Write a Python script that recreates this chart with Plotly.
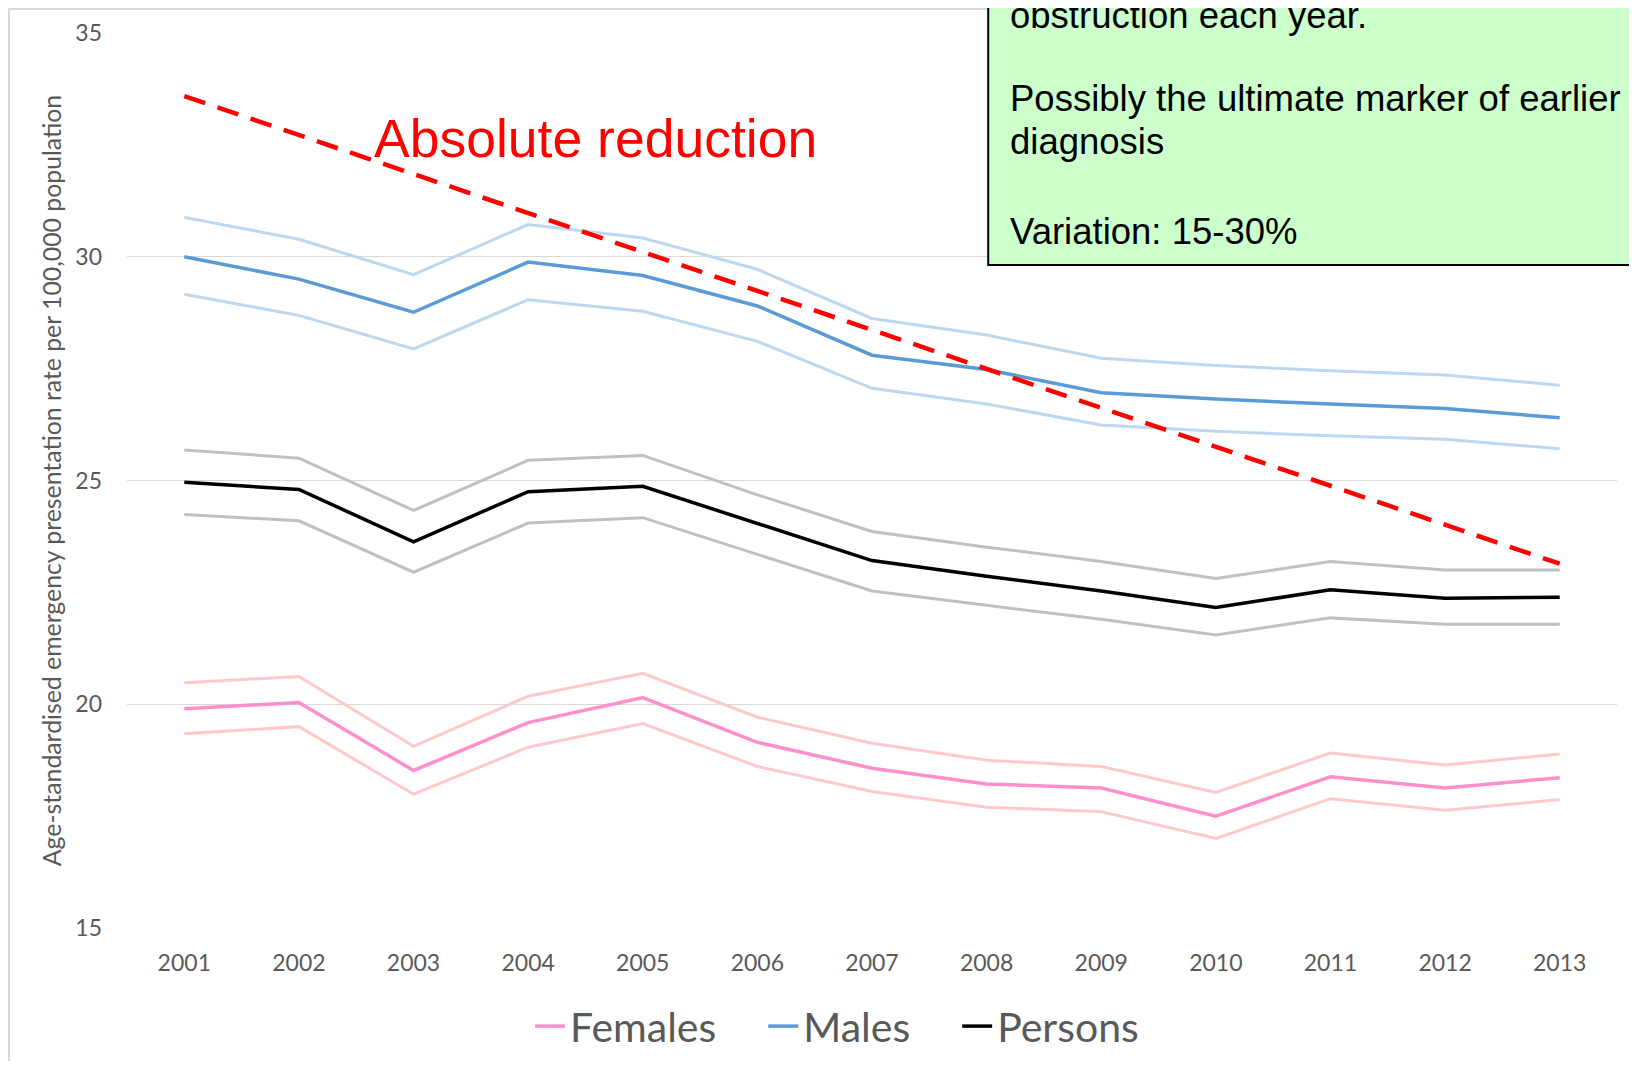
import plotly.graph_objects as go

years = list(range(2001, 2014))

males = [30.0, 29.5, 28.76, 29.88, 29.58, 28.9, 27.8, 27.48, 26.96, 26.82, 26.71, 26.61, 26.4]
males_hi = [30.88, 30.39, 29.6, 30.72, 30.42, 29.72, 28.62, 28.25, 27.73, 27.57, 27.45, 27.36, 27.13]
males_lo = [29.16, 28.69, 27.94, 29.04, 28.78, 28.11, 27.06, 26.71, 26.24, 26.1, 26.0, 25.92, 25.71]

persons = [24.96, 24.8, 23.63, 24.75, 24.87, 24.03, 23.21, 22.86, 22.53, 22.16, 22.56, 22.37, 22.39]
persons_hi = [25.68, 25.5, 24.33, 25.45, 25.56, 24.68, 23.86, 23.51, 23.19, 22.81, 23.19, 23.0, 23.0]
persons_lo = [24.24, 24.1, 22.95, 24.05, 24.17, 23.35, 22.53, 22.21, 21.9, 21.55, 21.93, 21.79, 21.79]

females = [19.9, 20.04, 18.52, 19.59, 20.15, 19.15, 18.57, 18.22, 18.13, 17.5, 18.38, 18.13, 18.36]
females_hi = [20.48, 20.62, 19.06, 20.18, 20.69, 19.71, 19.13, 18.75, 18.61, 18.03, 18.91, 18.64, 18.89]
females_lo = [19.34, 19.5, 17.99, 19.04, 19.57, 18.61, 18.05, 17.7, 17.6, 17.0, 17.89, 17.63, 17.87]

trend_years = [2001, 2013]
trend_vals = [33.59, 23.14]

# text of the green call-out box, one entry per line (top of box is off the slide)
box_lines = ["obstruction each year.",
             "Possibly the ultimate marker of earlier",
             "diagnosis",
             "Variation: 15-30%"]
box_y = [0.9945, 0.9017, 0.8536, 0.7531]

fig = go.Figure()

# confidence limits first, so main lines sit on top
for vals, col in [(females_hi, "#FFC9C9"), (females_lo, "#FFC9C9"),
                  (males_hi, "#BDD7EE"), (males_lo, "#BDD7EE"),
                  (persons_hi, "#C0C0C0"), (persons_lo, "#C0C0C0")]:
    fig.add_trace(go.Scatter(x=years, y=vals, mode="lines", showlegend=False,
                             line=dict(color=col, width=3), hoverinfo="skip"))

nb = "\u00a0" * 4
fig.add_trace(go.Scatter(x=years, y=females, mode="lines", name="Females" + nb,
                         line=dict(color="#FF8FCB", width=3.5)))
fig.add_trace(go.Scatter(x=years, y=males, mode="lines", name="Males" + nb,
                         line=dict(color="#5B9BD5", width=3.5)))
fig.add_trace(go.Scatter(x=years, y=persons, mode="lines", name="Persons",
                         line=dict(color="#000000", width=3.5)))

fig.add_trace(go.Scatter(x=trend_years, y=trend_vals, mode="lines", showlegend=False,
                         line=dict(color="#FF0000", width=4.5, dash="22px,13px")))

annotations = [
    dict(text="Absolute reduction", xref="paper", yref="paper", x=0.1644, y=0.8469,
         xanchor="left", yanchor="bottom", showarrow=False,
         font=dict(family="Liberation Sans, Arial", size=53.5, color="#FF0000")),
]
for txt, yy in zip(box_lines, box_y):
    annotations.append(dict(text=txt, xref="paper", yref="paper", x=0.5913, y=yy,
                            xanchor="left", yanchor="bottom", align="left", showarrow=False,
                            font=dict(family="Liberation Sans, Arial", size=36.5, color="#000000")))

# page has an 8px body margin: keep the figure inside the window (no scrollbars)
# and shift the margins so the plot area lands where the reference has it
fig.update_layout(
    width=1621, height=1053,
    margin=dict(l=119, r=12, t=25, b=133, autoexpand=False),
    paper_bgcolor="white", plot_bgcolor="white",
    font=dict(family="Lato", color="#595959"),
    showlegend=True,
    legend=dict(orientation="h", x=0.2705, y=-0.11, xanchor="left", yanchor="middle",
                font=dict(family="Lato", size=41, color="#595959"),
                itemwidth=30, tracegroupgap=0),
    xaxis=dict(range=[2000.5, 2013.5], tickmode="array", tickvals=years, automargin=False,
               showgrid=False, zeroline=False, showline=False, ticks="",
               tickfont=dict(size=23, color="#595959"), ticklabelstandoff=19),
    yaxis=dict(range=[15, 35], tickvals=[15, 20, 25, 30, 35], showgrid=True, automargin=False,
               gridcolor="#D9D9D9", gridwidth=1, zeroline=False, showline=False,
               ticks="", tickfont=dict(size=23, color="#595959"), ticklabelstandoff=24,
               title=dict(text="Age-standardised emergency presentation rate per 100,000 population",
                          font=dict(size=24.8, color="#595959"), standoff=6)),
    shapes=[
        dict(type="rect", xref="paper", yref="paper", x0=-0.0792, x1=1.2, y0=-0.3, y1=1.0268,
             line=dict(color="#D9D9D9", width=2), fillcolor="rgba(0,0,0,0)", layer="below"),
        dict(type="rect", xref="paper", yref="paper", x0=0.578, x1=1.2, y0=0.7408, y1=1.2,
             line=dict(color="#000000", width=2), fillcolor="#CCFFCC", layer="above"),
    ],
    annotations=annotations,
)

fig.write_html("out.html")
